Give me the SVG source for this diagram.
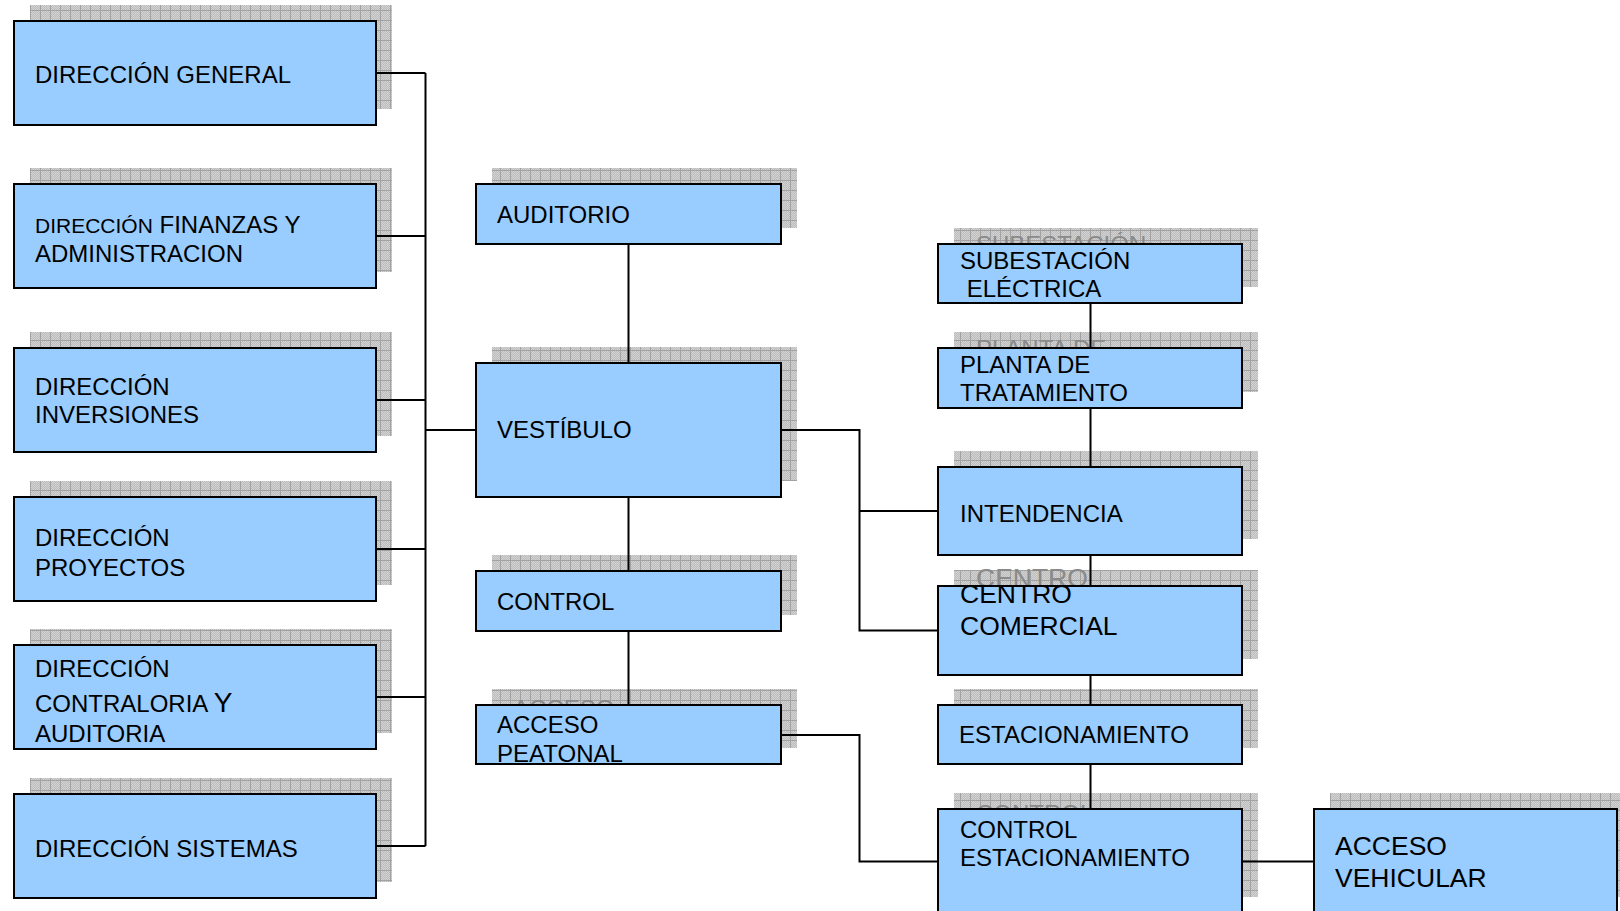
<svg xmlns="http://www.w3.org/2000/svg" width="1620" height="911" viewBox="0 0 1620 911">
<style>
.box{fill:#99ccff;stroke:#000;stroke-width:2}
.sh{fill:url(#shp)}
.t{font-family:"Liberation Sans",Arial,sans-serif;font-size:24px;fill:#000}
.t26{font-family:"Liberation Sans",Arial,sans-serif;font-size:26.5px;fill:#000}
.g{font-family:"Liberation Sans",Arial,sans-serif;font-size:24px;fill:#8a8a8a}
.g26{font-family:"Liberation Sans",Arial,sans-serif;font-size:26.5px;fill:#8a8a8a}
.c{fill:none;stroke:#000;stroke-width:2}
</style>
<defs>
<pattern id="dith" width="2" height="2" patternUnits="userSpaceOnUse">
<rect width="2" height="2" fill="#bdbdbd"/>
<rect width="1" height="1" fill="#d2d2d2"/>
<rect x="1" y="1" width="1" height="1" fill="#d2d2d2"/>
</pattern>
<pattern id="shp" width="10" height="10" patternUnits="userSpaceOnUse">
<rect width="10" height="10" fill="url(#dith)"/>
<path d="M0.5 0V10M0 0.5H10" stroke="#a2a2a2" stroke-width="1"/>
</pattern>
</defs>
<rect width="1620" height="911" fill="#fff"/>

<g id="dir-general">
<rect class="sh" x="30" y="5" width="362" height="104"/>
<rect class="box" x="14" y="21" width="362" height="104"/>
<text class="t" x="35" y="83">DIRECCIÓN GENERAL</text>
</g>
<g id="dir-finanzas">
<rect class="sh" x="30" y="168" width="362" height="104"/>
<rect class="box" x="14" y="184" width="362" height="104"/>
<text class="t" x="35" y="233"><tspan style="font-size:21px">DIRECCIÓN</tspan> FINANZAS Y</text>
<text class="t" x="35" y="262">ADMINISTRACION</text>
</g>
<g id="dir-inversiones">
<rect class="sh" x="30" y="332" width="362" height="104"/>
<rect class="box" x="14" y="348" width="362" height="104"/>
<text class="t" x="35" y="395">DIRECCIÓN</text>
<text class="t" x="35" y="423">INVERSIONES</text>
</g>
<g id="dir-proyectos">
<rect class="sh" x="30" y="481" width="362" height="104"/>
<rect class="box" x="14" y="497" width="362" height="104"/>
<text class="t" x="35" y="546">DIRECCIÓN</text>
<text class="t" x="35" y="576">PROYECTOS</text>
</g>
<g id="dir-contraloria">
<rect class="sh" x="30" y="629" width="362" height="104"/>
<text class="g" x="51" y="661">DIRECCIÓN</text>
<rect class="box" x="14" y="645" width="362" height="104"/>
<text class="t" x="35" y="677">DIRECCIÓN</text>
<text class="t" x="35" y="712">CONTRALORIA <tspan style="font-size:28px">Y</tspan></text>
<text class="t" x="35" y="742">AUDITORIA</text>
</g>
<g id="dir-sistemas">
<rect class="sh" x="30" y="778" width="362" height="104"/>
<rect class="box" x="14" y="794" width="362" height="104"/>
<text class="t" x="35" y="857">DIRECCIÓN SISTEMAS</text>
</g>

<g id="auditorio">
<rect class="sh" x="492" y="168" width="305" height="60"/>
<rect class="box" x="476" y="184" width="305" height="60"/>
<text class="t" x="497" y="223">AUDITORIO</text>
</g>
<g id="vestibulo">
<rect class="sh" x="492" y="347" width="305" height="134"/>
<rect class="box" x="476" y="363" width="305" height="134"/>
<text class="t" x="497" y="438">VESTÍBULO</text>
</g>
<g id="control">
<rect class="sh" x="492" y="555" width="305" height="60"/>
<rect class="box" x="476" y="571" width="305" height="60"/>
<text class="t" x="497" y="610">CONTROL</text>
</g>
<g id="acceso-peatonal">
<rect class="sh" x="492" y="689" width="305" height="59"/>
<text class="g" x="513" y="717">ACCESO</text>
<rect class="box" x="476" y="705" width="305" height="59"/>
<text class="t" x="497" y="733">ACCESO</text>
<text class="t" x="497" y="762">PEATONAL</text>
</g>

<g id="subestacion">
<rect class="sh" x="954" y="228" width="304" height="59"/>
<text class="g" x="976" y="253">SUBESTACIÓN</text>
<rect class="box" x="938" y="244" width="304" height="59"/>
<text class="t" x="960" y="269">SUBESTACIÓN</text>
<text class="t" x="960" y="297" xml:space="preserve"> ELÉCTRICA</text>
</g>
<g id="planta">
<rect class="sh" x="954" y="332" width="304" height="60"/>
<text class="g" x="976" y="357">PLANTA DE</text>
<rect class="box" x="938" y="348" width="304" height="60"/>
<text class="t" x="960" y="373">PLANTA DE</text>
<text class="t" x="960" y="401">TRATAMIENTO</text>
</g>
<g id="intendencia">
<rect class="sh" x="954" y="451" width="304" height="88"/>
<rect class="box" x="938" y="467" width="304" height="88"/>
<text class="t" x="960" y="522">INTENDENCIA</text>
</g>
<g id="centro-comercial">
<rect class="sh" x="954" y="570" width="304" height="89"/>
<text class="g26" x="976" y="587">CENTRO</text>
<rect class="box" x="938" y="586" width="304" height="89"/>
<text class="t26" x="960" y="603">CENTRO</text>
<text class="t26" x="960" y="635">COMERCIAL</text>
</g>
<g id="estacionamiento">
<rect class="sh" x="954" y="689" width="304" height="59"/>
<rect class="box" x="938" y="705" width="304" height="59"/>
<text class="t" x="959" y="743">ESTACIONAMIENTO</text>
</g>
<g id="control-estacionamiento">
<rect class="sh" x="954" y="793" width="304" height="104"/>
<text class="g" x="976" y="822">CONTROL</text>
<rect class="box" x="938" y="809" width="304" height="104"/>
<text class="t" x="960" y="838">CONTROL</text>
<text class="t" x="960" y="866">ESTACIONAMIENTO</text>
</g>
<g id="acceso-vehicular">
<rect class="sh" x="1330" y="793" width="304" height="104"/>
<rect class="box" x="1314" y="809" width="303" height="104"/>
<text class="t26" x="1335" y="855">ACCESO</text>
<text class="t26" x="1335" y="887">VEHICULAR</text>
</g>

<g id="connectors">
<path class="c" d="M376 73H425.5M376 236H425.5M376 400H425.5M376 549H425.5M376 697H425.5M376 846H425.5M425.5 73V846M425.5 430H476"/>
<path class="c" d="M628.5 244V363M628.5 497V571M628.5 631V705"/>
<path class="c" d="M781 430H859.5V630.5H938M859.5 511H938"/>
<path class="c" d="M781 735H859.5V861.5H938"/>
<path class="c" d="M1090.5 303V348M1090.5 408V467M1090.5 555V586M1090.5 675V705M1090.5 764V809"/>
<path class="c" d="M1242 861.5H1314"/>
</g>
</svg>
